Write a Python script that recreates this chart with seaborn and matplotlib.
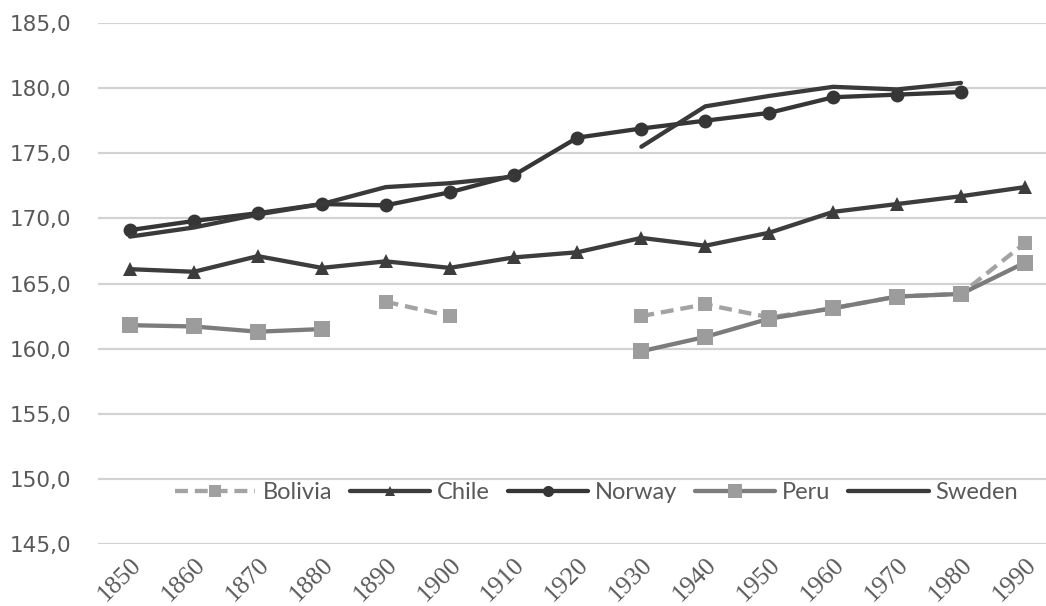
import numpy as np
import pandas as pd
import matplotlib
matplotlib.use("Agg")
import matplotlib.pyplot as plt
from matplotlib.lines import Line2D
import seaborn as sns

nan = np.nan

# Average male height (cm) by decade
years = [1850, 1860, 1870, 1880, 1890, 1900, 1910, 1920, 1930, 1940, 1950, 1960, 1970, 1980, 1990]
bolivia = [nan, nan, nan, nan, 163.6, 162.5, nan, nan, 162.5, 163.4, 162.4, 163.1, 164.0, 164.2, 168.1]
chile = [166.1, 165.9, 167.1, 166.2, 166.7, 166.2, 167.0, 167.4, 168.5, 167.9, 168.9, 170.5, 171.1, 171.7, 172.4]
norway = [169.1, 169.8, 170.4, 171.1, 171.0, 172.0, 173.3, 176.2, 176.9, 177.5, 178.1, 179.3, 179.5, 179.7, nan]
peru = [161.8, 161.7, 161.3, 161.5, nan, nan, nan, nan, 159.8, 160.9, 162.3, 163.1, 164.0, 164.2, 166.6]
sweden = [168.6, 169.3, 170.3, 171.1, 172.4, 172.7, 173.2, nan, 175.5, 178.6, 179.4, 180.1, 179.9, 180.4, nan]

countries = ["Bolivia", "Chile", "Norway", "Peru", "Sweden"]
y_ticks = [145, 150, 155, 160, 165, 170, 175, 180, 185]
y_labels = [f"{v:.1f}".replace(".", ",") for v in y_ticks]

styles = {
    "Bolivia": dict(color="#a3a3a3", marker="s", markersize=10, linestyle=(0, (3.0, 1.6)),
                    mfc="#a0a0a0", mec="#a0a0a0"),
    "Chile": dict(color="#3d3d3d", marker="^", markersize=9.5, linestyle="-",
                  mfc="#3d3d3d", mec="#3d3d3d"),
    "Norway": dict(color="#363636", marker="o", markersize=10, linestyle="-",
                   mfc="#363636", mec="#363636"),
    "Peru": dict(color="#7c7c7c", marker="s", markersize=12, linestyle="-",
                 mfc="#9c9c9c", mec="#9c9c9c"),
    "Sweden": dict(color="#3a3a3a", marker=None, markersize=0, linestyle="-",
                   mfc="#3a3a3a", mec="#3a3a3a"),
}

df = pd.DataFrame({"year": years, "Bolivia": bolivia, "Chile": chile,
                   "Norway": norway, "Peru": peru, "Sweden": sweden})
long = df.melt(id_vars="year", var_name="country", value_name="height")

sns.set_theme(style="white")
plt.rcParams["font.family"] = ["DejaVu Sans"]

fig = plt.figure(figsize=(10.46, 6.06), dpi=100)
ax = fig.add_axes([98 / 1046, 62 / 606, 948 / 1046, 521 / 606])

lw = 3.1
for name in countries:
    sub = long[long["country"] == name].reset_index(drop=True)
    # split into contiguous runs so missing decades leave gaps
    run_id = sub["height"].isna().cumsum()
    valid = sub[sub["height"].notna()].copy()
    valid["run"] = run_id[sub["height"].notna()]
    st = styles[name]
    for _, seg in valid.groupby("run"):
        sns.lineplot(data=seg, x="year", y="height", ax=ax, color=st["color"],
                     linewidth=lw, linestyle="-",
                     marker=st["marker"], markersize=st["markersize"],
                     markerfacecolor=st["mfc"], markeredgecolor=st["mec"],
                     markeredgewidth=0, legend=False, zorder=3)
        ax.lines[-1].set_linestyle(st["linestyle"])

ax.set_xlim(1845, 1993.3)
ax.set_ylim(145, 185)
ax.set_yticks(y_ticks)
ax.set_yticklabels(y_labels, fontsize=15.5, color="#595959")
ax.set_xticks(years)
ax.set_xticklabels([str(y) for y in years], rotation=45, ha="right", va="top",
                   rotation_mode="anchor",
                   fontsize=18.5, color="#595959", family=["Liberation Serif", "DejaVu Serif"])
ax.tick_params(axis="y", length=0, pad=19)
ax.tick_params(axis="x", length=0, pad=7)
ax.set_xlabel("")
ax.set_ylabel("")
ax.grid(axis="y", color="#d2d2d2", linewidth=1.6)
ax.grid(axis="x", visible=False)
for s in ax.spines.values():
    s.set_visible(False)

handles = []
for name in countries:
    st = styles[name]
    handles.append(Line2D([], [], color=st["color"], linewidth=lw, linestyle=st["linestyle"],
                          marker=st["marker"], markersize=st["markersize"] * 0.8,
                          markerfacecolor=st["mfc"], markeredgecolor=st["mec"],
                          markeredgewidth=0))
leg = ax.legend(handles, countries, loc="center", bbox_to_anchor=(0.526, 0.098),
                ncol=5, frameon=False, handlelength=3.4, handletextpad=0.3,
                columnspacing=0.75, borderpad=0,
                prop=dict(family=["Lato", "DejaVu Sans"], size=17))
for t in leg.get_texts():
    t.set_color("#595959")

fig.savefig("out.png", dpi=100, facecolor="white")
